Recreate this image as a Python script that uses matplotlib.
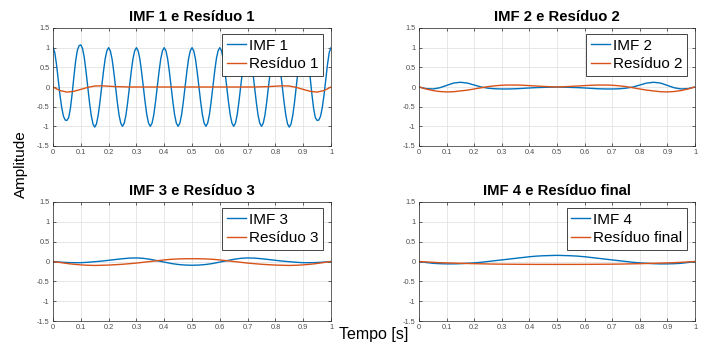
import matplotlib
matplotlib.use('Agg')
import matplotlib.pyplot as plt
from matplotlib.ticker import FuncFormatter

plt.rcParams['font.family'] = ['Liberation Sans', 'DejaVu Sans']

# time axis (s)
t_fine = [i / 160 for i in range(161)]
t = [i / 40 for i in range(41)]

# IMF 1 read every 1/160 s
imf1 = [1.00, 0.88, 0.58, 0.20, -0.20, -0.52, -0.74, -0.84, -0.85, -0.78, -0.55, -0.18, 0.25, 0.65, 0.93, 1.05,
        1.07, 0.98, 0.75, 0.40, 0.00, -0.39, -0.72, -0.94, -1.02, -0.94, -0.72, -0.39, 0.00, 0.38, 0.71, 0.92,
        1.00, 0.92, 0.71, 0.38, 0.00, -0.38, -0.71, -0.92, -1.00, -0.92, -0.71, -0.38, 0.00, 0.38, 0.71, 0.92,
        1.00, 0.92, 0.71, 0.38, 0.00, -0.38, -0.71, -0.92, -1.00, -0.92, -0.71, -0.38, 0.00, 0.38, 0.71, 0.92,
        1.00, 0.92, 0.71, 0.38, 0.00, -0.38, -0.71, -0.92, -1.00, -0.92, -0.71, -0.38, 0.00, 0.38, 0.71, 0.92,
        1.00, 0.92, 0.71, 0.38, 0.00, -0.38, -0.71, -0.92, -1.00, -0.92, -0.71, -0.38, 0.00, 0.38, 0.71, 0.92,
        1.00, 0.92, 0.71, 0.38, 0.00, -0.38, -0.71, -0.92, -1.00, -0.92, -0.71, -0.38, 0.00, 0.38, 0.71, 0.92,
        1.00, 0.92, 0.71, 0.38, 0.00, -0.38, -0.71, -0.92, -1.00, -0.92, -0.71, -0.38, 0.00, 0.38, 0.71, 0.92,
        1.00, 0.92, 0.71, 0.38, 0.00, -0.39, -0.72, -0.94, -1.02, -0.94, -0.72, -0.39, 0.00, 0.40, 0.75, 0.98,
        1.07, 1.05, 0.93, 0.65, 0.25, -0.18, -0.55, -0.78, -0.85, -0.84, -0.74, -0.52, -0.20, 0.20, 0.58, 0.88,
        1.00]

# the rest read every 0.025 s
res1 = [0.00, -0.09, -0.13, -0.11, -0.06, -0.01, 0.025, 0.03, 0.02, 0.01,
        0.005, 0.0, 0.0, 0.0, 0.0, 0.0, 0.0, 0.0, 0.0, 0.0,
        0.0,
        0.0, 0.0, 0.0, 0.0, 0.0, 0.0, 0.0, 0.0, 0.0, 0.005,
        0.01, 0.02, 0.03, 0.025, -0.01, -0.06, -0.11, -0.13, -0.09, 0.00]

imf2 = [0.0, -0.04, -0.05, -0.02, 0.04, 0.10, 0.12, 0.10, 0.05, 0.0,
        -0.03, -0.045, -0.05, -0.05, -0.045, -0.035, -0.025, -0.015, -0.01, -0.005,
        0.0,
        -0.005, -0.01, -0.015, -0.025, -0.035, -0.045, -0.05, -0.05, -0.045, -0.03,
        0.0, 0.05, 0.10, 0.12, 0.10, 0.04, -0.02, -0.05, -0.04, 0.0]

res2 = [0.0, -0.05, -0.09, -0.115, -0.125, -0.12, -0.10, -0.08, -0.05, -0.02,
        0.01, 0.03, 0.045, 0.05, 0.05, 0.045, 0.035, 0.025, 0.015, 0.007,
        0.0,
        0.007, 0.015, 0.025, 0.035, 0.045, 0.05, 0.05, 0.045, 0.03, 0.01,
        -0.02, -0.05, -0.08, -0.10, -0.12, -0.125, -0.115, -0.09, -0.05, 0.0]

imf3 = [0.0, -0.015, -0.025, -0.03, -0.03, -0.02, -0.005, 0.01, 0.03, 0.05,
        0.07, 0.085, 0.09, 0.08, 0.055, 0.02, -0.015, -0.05, -0.075, -0.09,
        -0.095,
        -0.09, -0.075, -0.05, -0.015, 0.02, 0.055, 0.08, 0.09, 0.085, 0.07,
        0.05, 0.03, 0.01, -0.005, -0.02, -0.03, -0.03, -0.025, -0.015, 0.0]

res3 = [0.0, -0.025, -0.05, -0.07, -0.085, -0.095, -0.10, -0.095, -0.09, -0.08,
        -0.07, -0.055, -0.04, -0.02, 0.0, 0.02, 0.04, 0.055, 0.065, 0.07,
        0.07,
        0.07, 0.065, 0.055, 0.04, 0.02, 0.0, -0.02, -0.04, -0.055, -0.07,
        -0.08, -0.09, -0.095, -0.10, -0.095, -0.085, -0.07, -0.05, -0.025, 0.0]

imf4 = [0.0, -0.025, -0.045, -0.055, -0.06, -0.06, -0.055, -0.045, -0.035, -0.02,
        0.0, 0.02, 0.04, 0.06, 0.08, 0.10, 0.12, 0.135, 0.145, 0.15,
        0.155,
        0.15, 0.145, 0.135, 0.12, 0.10, 0.08, 0.06, 0.04, 0.02, 0.0,
        -0.02, -0.035, -0.045, -0.055, -0.06, -0.06, -0.055, -0.045, -0.025, 0.0]

res_final = [0.0, -0.01, -0.02, -0.03, -0.035, -0.04, -0.045, -0.05, -0.055, -0.058,
             -0.062, -0.065, -0.067, -0.069, -0.07, -0.071, -0.072, -0.073, -0.073, -0.073,
             -0.073,
             -0.073, -0.073, -0.073, -0.072, -0.071, -0.07, -0.069, -0.067, -0.065, -0.062,
             -0.058, -0.055, -0.05, -0.045, -0.04, -0.035, -0.03, -0.02, -0.01, 0.0]

panels = [
    ('IMF 1 e Resíduo 1', t_fine, imf1, t, res1, 'IMF 1', 'Resíduo 1'),
    ('IMF 2 e Resíduo 2', t, imf2, t, res2, 'IMF 2', 'Resíduo 2'),
    ('IMF 3 e Resíduo 3', t, imf3, t, res3, 'IMF 3', 'Resíduo 3'),
    ('IMF 4 e Resíduo final', t, imf4, t, res_final, 'IMF 4', 'Resíduo final'),
]

blue = '#0072BD'
orange = '#D95319'

W, H = 704, 345
fig = plt.figure(figsize=(W / 100, H / 100), dpi=100)

# axes boxes in pixels: left, top, right, bottom
boxes = [(53, 28, 331, 146), (419, 28, 695, 146),
         (53, 202, 331, 321), (419, 202, 695, 321)]

for (title, tx1, y1, tx2, y2, lab1, lab2), (l, tp, r, b) in zip(panels, boxes):
    ax = fig.add_axes([l / W, 1 - b / H, (r - l) / W, (b - tp) / H])
    ax.plot(tx1, y1, color=blue, lw=1.0, label=lab1)
    ax.plot(tx2, y2, color=orange, lw=1.0, label=lab2)
    ax.set_xlim(0, 1)
    ax.set_ylim(-1.5, 1.5)
    ax.set_xticks([i / 10 for i in range(11)])
    ax.set_yticks([-1.5, -1, -0.5, 0, 0.5, 1, 1.5])
    ax.xaxis.set_major_formatter(FuncFormatter(lambda v, p: f'{v:g}'))
    ax.yaxis.set_major_formatter(FuncFormatter(lambda v, p: f'{v:g}'))
    ax.tick_params(direction='in', length=2.5, width=0.5, labelsize=5.3,
                   colors='#262626', labelcolor='#4d4d4d', pad=2.5,
                   top=True, right=True)
    ax.grid(True, color='#e3e3e3', lw=0.6)
    ax.set_axisbelow(True)
    for s in ax.spines.values():
        s.set_linewidth(0.5)
        s.set_color('#262626')
    ax.set_title(title, fontsize=10.7, fontweight='bold', pad=5)
    leg = ax.legend(loc='upper right', bbox_to_anchor=(1 - 8 / (r - l), 1 - 6 / (b - tp)),
                    borderaxespad=0, fontsize=11, fancybox=False, framealpha=1,
                    edgecolor='#262626', handlelength=1.25, handletextpad=0.2,
                    labelspacing=0.3, borderpad=0.3)
    leg.get_frame().set_linewidth(0.6)

fig.text(21 / W, 1 - 164 / H, 'Amplitude', rotation=90, ha='center', va='center', fontsize=11)
fig.text(374 / W, 1 - 334 / H, 'Tempo [s]', ha='center', va='center', fontsize=11.5)

fig.savefig('out.png', dpi=100)
